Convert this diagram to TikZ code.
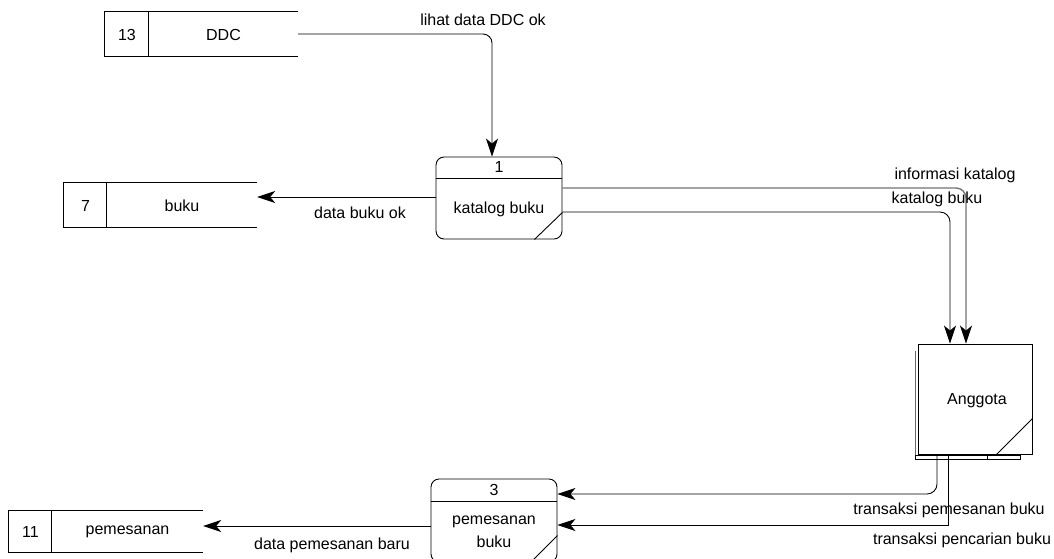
\documentclass[tikz,border=0pt]{standalone}
\usepackage{fontspec}
\setmainfont{Liberation Sans}
\usetikzlibrary{arrows.meta}

\begin{document}
\begin{tikzpicture}[x=1pt, y=-1pt,
  every node/.style={font=\fontsize{16}{19}\selectfont, inner sep=0pt},
  line/.style={line width=0.9pt},
  storebox/.style={rectangle, minimum width=193pt, minimum height=44pt},
  procbox/.style={draw, line width=0.9pt, rectangle, rounded corners=8pt,
    minimum width=126pt, minimum height=82pt},
  entitybox/.style={draw, line width=0.9pt, rectangle,
    minimum width=114pt, minimum height=110pt},
  flow/.style={line width=0.9pt,
    -{Stealth[length=18pt, width=12pt, inset=5pt, color=black]}},
  lbl/.style={anchor=center}
]
\clip (0,0) rectangle (1054,558);

% ---------- data stores ----------
\node[storebox] (ddc) at (201.5,34) {};
\draw[line] (ddc.north east) -- (ddc.north west) -- (ddc.south west) -- (ddc.south east);
\draw[line] ([xshift=44pt]ddc.north west) -- ([xshift=44pt]ddc.south west);
\node (ddcnum) at (127,35) {13};
\node (ddcname) at (223.5,35) {DDC};

\node[storebox] (buku) at (160.5,205) {};
\draw[line] (buku.north east) -- (buku.north west) -- (buku.south west) -- (buku.south east);
\draw[line] ([xshift=43pt]buku.north west) -- ([xshift=43pt]buku.south west);
\node (bukunum) at (85.5,206) {7};
\node (bukuname) at (182,206) {buku};

\node[storebox, minimum width=194pt, minimum height=41pt] (pem) at (106,531.5) {};
\draw[line] (pem.north east) -- (pem.north west) -- (pem.south west) -- (pem.south east);
\draw[line] ([xshift=43pt]pem.north west) -- ([xshift=43pt]pem.south west);
\node (pemnum) at (30.5,532) {11};
\node (pemname) at (127.5,532) {pemesanan};

% ---------- processes ----------
\node[procbox] (p1) at (499,198) {};
\draw[line] (p1.west |- 0,178) -- (p1.east |- 0,178);
\draw[line] ([yshift=27pt]p1.south east) -- ([xshift=-28pt]p1.south east);
\node (p1id) at (499,167) {1};
\node (p1name) at (499,209) {katalog buku};

\node[procbox, minimum height=83pt] (p3) at (494,520.5) {};
\draw[line] (p3.west |- 0,501) -- (p3.east |- 0,501);
\draw[line] ([yshift=27pt]p3.south east) -- ([xshift=-27pt]p3.south east);
\node (p3id) at (494,490) {3};
\node (p3name) at (494,522) {pemesanan};
\node (p3name2) at (494,542) {buku};

% ---------- external entity with duplicate marks ----------
\node[entitybox] (anggota) at (975,399) {};
\draw[black!60, line width=1.6pt] ([xshift=-2pt,yshift=-7pt]anggota.north west)
  -- ([xshift=-2pt,yshift=-3pt]anggota.south west);
\draw[line width=0.8pt] ([xshift=-2pt,yshift=-1pt]anggota.south west)
  rectangle ([xshift=-12pt,yshift=-5pt]anggota.south east);
\draw[line width=0.8pt] ([xshift=-45pt,yshift=-1pt]anggota.south east)
  -- ([xshift=-45pt,yshift=-5pt]anggota.south east);
\draw[line] ([yshift=36pt]anggota.south east) -- ([xshift=-36pt]anggota.south east);
\node (anggotaname) at (977,401) {Anggota};

% ---------- data flows ----------
\draw[flow, rounded corners=9pt] (ddc.east) -| ([xshift=-7pt]p1.north);
\node[lbl] (l1) at (483,20) {lihat data DDC ok};

\draw[flow] (p1.west |- 0,197) -- (buku.east |- 0,197);
\node[lbl] (l2) at (360,213) {data buku ok};

\draw[flow, draw=black!55, line width=1.4pt, rounded corners=10pt]
  (p1.east |- 0,188) -| (anggota.north -| 966,0);
\node[lbl] (l3) at (955,175) {informasi katalog};

\draw[flow, rounded corners=10pt] (p1.east |- 0,212) -| (anggota.north -| 950,0);
\node[lbl] (l4) at (937,199) {katalog buku};

\draw[flow, rounded corners=10pt] (anggota.south -| 937,0) |- (p3.east |- 0,494);
\node[lbl] (l5) at (949,510) {transaksi pemesanan buku};

\draw[flow] (anggota.south -| 948,0) |- (p3.east |- 0,525);
\node[lbl] (l6) at (962,540) {transaksi pencarian buku};

\draw[flow] (p3.west |- 0,526) -- (pem.east |- 0,526);
\node[lbl] (l7) at (332,545) {data pemesanan baru};

\end{tikzpicture}
\end{document}
